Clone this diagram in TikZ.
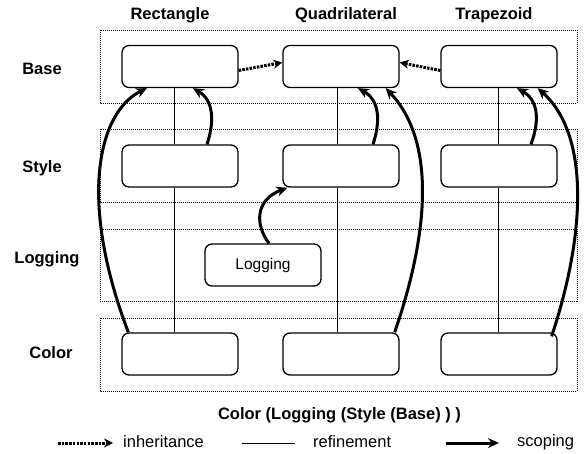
\documentclass[tikz,border=0pt]{standalone}
\usepackage{fontspec}
\setmainfont{Liberation Sans}
\usetikzlibrary{arrows.meta}
\begin{document}
\begin{tikzpicture}[x=1pt,y=-1pt,
  box/.style={draw,line width=1.3pt,rounded corners=7pt,minimum width=116pt,minimum height=42pt,inner sep=0pt,fill=white},
  layer/.style={draw,densely dotted,line width=1pt},
  hdr/.style={font=\fontsize{16.5}{19}\selectfont\bfseries,inner sep=0pt},
  lbl/.style={font=\fontsize{16.5}{19}\selectfont,inner sep=0pt},
  scoping/.style={line width=3pt,-{Stealth[length=11pt,width=10pt]}},
  inherit/.style={dash pattern=on 2.5pt off 1.2pt,line width=3pt,-{Stealth[length=9pt,width=9pt]}},
  refine/.style={line width=1pt}]
\useasboundingbox (0,0) rectangle (584,453);
% layers
\draw[layer] (100,30) rectangle (577,103);
\draw[layer] (100,129) rectangle (577,202);
\draw[layer] (100,229) rectangle (577,301);
\draw[layer] (100,318) rectangle (577,391);
% headers
\node[hdr] (hr) at (170,15) {Rectangle};
\node[hdr] (hq) at (346,15) {Quadrilateral};
\node[hdr] (ht) at (494,15) {Trapezoid};
\node[hdr] (lb) at (42,69) {Base};
\node[hdr] (ls) at (42,168) {Style};
\node[hdr] (ll) at (47,259) {Logging};
\node[hdr] (lc) at (51,353) {Color};
% nodes
\node[box] (rb) at (180,66.5) {};
\node[box] (qb) at (341,66.5) {};
\node[box] (tb) at (499,66.5) {};
\node[box] (rs) at (180,166) {};
\node[box] (qs) at (341,166) {};
\node[box] (ts) at (499,166) {};
\node[box,font=\fontsize{15.5}{18}\selectfont] (lg) at (263,265) {Logging};
\node[box] (rc) at (180,354) {};
\node[box] (qc) at (341,354) {};
\node[box] (tc) at (499,354) {};
% refinement
\draw[refine] ([xshift=-6pt]rb.south) -- ([xshift=-6pt]rs.north);
\draw[refine] ([xshift=-6pt]rs.south) -- ([xshift=-6pt]rc.north);
\draw[refine] ([xshift=-4pt]qb.south) -- ([xshift=-4pt]qs.north);
\draw[refine] ([xshift=-4pt]qs.south) -- ([xshift=-4pt]qc.north);
\draw[refine] ([xshift=-1pt]tb.south) -- ([xshift=-1pt]ts.north);
\draw[refine] ([xshift=-1pt]ts.south) -- ([xshift=-1pt]tc.north);
% inheritance
\draw[inherit] ([yshift=-4pt]rb.east) -- ([yshift=4pt]qb.west);
\draw[inherit] ([yshift=-4pt]tb.west) -- ([yshift=4pt]qb.east);
% scoping
\draw[scoping] ([xshift=7pt]rc.north west) .. controls (78,200) and (98,112) .. ([xshift=-33pt]rb.south);
\draw[scoping] ([xshift=27pt]rs.north) .. controls (215,120) and (213,100) .. ([xshift=13pt]rb.south);
\draw[scoping] ([xshift=6pt]lg.north) .. controls (255,225) and (255,200) .. ([xshift=5pt]qs.south west);
\draw[scoping] ([xshift=32pt]qs.north) .. controls (381,120) and (379,100) .. ([xshift=17pt]qb.south);
\draw[scoping] ([xshift=-5pt]qc.north east) .. controls (430,230) and (435,140) .. ([xshift=-14pt]qb.south east);
\draw[scoping] ([xshift=32pt]ts.north) .. controls (540,120) and (538,100) .. ([xshift=18pt]tb.south);
\draw[scoping] ([xshift=-6pt,yshift=-4pt]tc.north east) .. controls (590,220) and (585,130) .. ([xshift=-20pt]tb.south east);
% title
\node[hdr] (title) at (339.5,415) {Color (Logging (Style (Base) ) )};
% legend
\coordinate (i1) at (58,443); \coordinate (i2) at (113,443);
\draw[inherit] (i1) -- (i2);
\node[lbl,anchor=west] (ti) at (123,442) {inheritance};
\coordinate (r1) at (242,443); \coordinate (r2) at (295,443);
\draw[refine] (r1) -- (r2);
\node[lbl,anchor=west] (tr) at (313,442) {refinement};
\coordinate (s1) at (446,443); \coordinate (s2) at (499,443);
\draw[scoping] (s1) -- (s2);
\node[lbl,anchor=west] (ts2) at (517,442) {scoping};
\end{tikzpicture}
\end{document}
